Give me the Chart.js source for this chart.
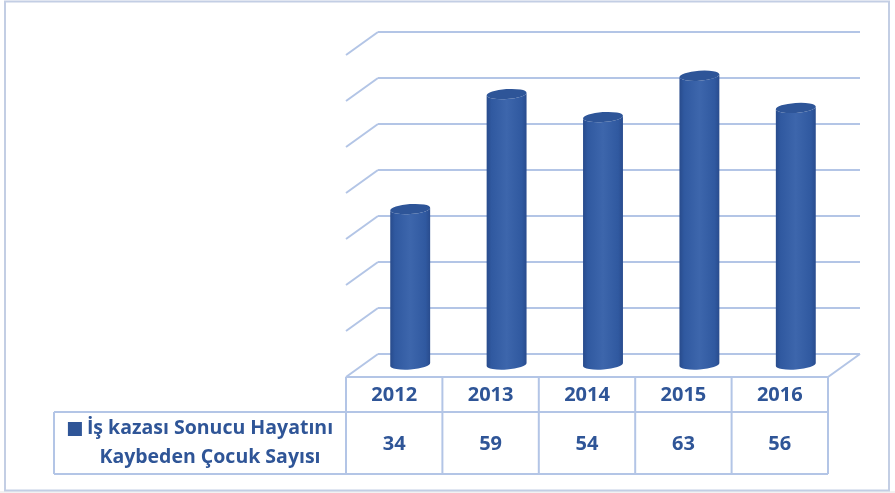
<!DOCTYPE html>
<html>
<head>
<meta charset="utf-8">
<script src="https://cdn.jsdelivr.net/npm/chart.js@4/dist/chart.umd.min.js"></script>
<style>
  html, body { margin: 0; padding: 0; background: #ffffff; }
  canvas { display: block; }
</style>
</head>
<body>
<canvas id="c" width="895" height="493"></canvas>
<script>
// ---- data ----
const categories = ['2012', '2013', '2014', '2015', '2016'];
const values = [34, 59, 54, 63, 56];
const seriesLines = ['İş kazası Sonucu Hayatını', 'Kaybeden Çocuk Sayısı'];
const yMin = 0;
const yMax = 70;
const yStep = 10;

// ---- style ----
const gridColor = '#B3C5E6';
const textColor = '#2F5597';
const depthX = -32, depthY = 23;
const fontFamily = '"Open Sans", Lato, "DejaVu Sans", sans-serif';

const threeD = {
  id: 'threeD',
  beforeDraw(chart) {
    const ctx = chart.ctx;
    ctx.save();
    ctx.fillStyle = '#ffffff';
    ctx.fillRect(0, 0, chart.width, chart.height);
    ctx.fillStyle = '#F2F2F2';
    ctx.fillRect(0, 491, chart.width, chart.height - 491);
    ctx.strokeStyle = '#C3CEE4';
    ctx.lineWidth = 2;
    ctx.strokeRect(5, 1.5, 884, 489);
    ctx.restore();
  },
  beforeDatasetsDraw(chart) {
    const { ctx, chartArea: a, scales: { x, y } } = chart;
    ctx.save();
    ctx.strokeStyle = gridColor;
    ctx.lineWidth = 2;
    ctx.beginPath();
    y.ticks.forEach(t => {
      const py = y.getPixelForValue(t.value);
      ctx.moveTo(a.left, py);
      ctx.lineTo(a.left + depthX, py + depthY);
    });
    const y0 = y.getPixelForValue(yMin);
    ctx.moveTo(a.left + depthX, y0 + depthY);
    ctx.lineTo(a.right + depthX, y0 + depthY);
    ctx.moveTo(a.right, y0);
    ctx.lineTo(a.right + depthX, y0 + depthY);
    ctx.stroke();
    ctx.restore();
  },
  afterDatasetsDraw(chart) {
    const ctx = chart.ctx;
    const meta = chart.getDatasetMeta(0);
    const rot = -0.07;
    meta.data.forEach(el => {
      const p = el.getProps(['x', 'y', 'base', 'width'], true);
      const cx = p.x + depthX / 2;
      const top = p.y + depthY / 2;
      const bot = p.base + depthY / 2;
      const rx = p.width / 2;
      const ry = 5;
      const cr = Math.cos(rot), sr = Math.sin(rot);
      ctx.save();
      const g = ctx.createLinearGradient(cx - rx, 0, cx + rx, 0);
      g.addColorStop(0, '#284B8C');
      g.addColorStop(0.12, '#3059A0');
      g.addColorStop(0.5, '#3D66AC');
      g.addColorStop(0.88, '#3059A0');
      g.addColorStop(1, '#294C8E');
      ctx.fillStyle = g;
      ctx.beginPath();
      ctx.moveTo(cx - rx * cr, top - rx * sr);
      ctx.lineTo(cx - rx * cr, bot - rx * sr);
      ctx.ellipse(cx, bot, rx, ry, rot, Math.PI, 0, true);
      ctx.lineTo(cx + rx * cr, top + rx * sr);
      ctx.ellipse(cx, top, rx, ry, rot, 0, Math.PI, false);
      ctx.closePath();
      ctx.fill();
      ctx.fillStyle = '#2E5598';
      ctx.beginPath();
      ctx.ellipse(cx, top, rx, ry, rot, 0, Math.PI * 2);
      ctx.fill();
      ctx.restore();
    });
  },
  afterDraw(chart) {
    const { ctx, scales: { x, y } } = chart;
    const y0 = y.getPixelForValue(yMin) + depthY;
    const headerH = 35, rowH = 62;
    const n = chart.data.labels.length;
    const half = (x.getPixelForValue(1) - x.getPixelForValue(0)) / 2;
    const bounds = [];
    for (let i = 0; i <= n; i++) {
      bounds.push(x.getPixelForValue(i) - half + depthX);
    }
    const legendLeft = 54;
    ctx.save();
    ctx.strokeStyle = gridColor;
    ctx.lineWidth = 2;
    ctx.beginPath();
    bounds.forEach(bx => { ctx.moveTo(bx, y0); ctx.lineTo(bx, y0 + headerH + rowH); });
    ctx.moveTo(bounds[0], y0 + headerH);
    ctx.lineTo(bounds[n], y0 + headerH);
    ctx.moveTo(legendLeft, y0 + headerH);
    ctx.lineTo(bounds[0], y0 + headerH);
    ctx.moveTo(legendLeft, y0 + headerH + rowH);
    ctx.lineTo(bounds[n], y0 + headerH + rowH);
    ctx.moveTo(legendLeft, y0 + headerH);
    ctx.lineTo(legendLeft, y0 + headerH + rowH);
    ctx.stroke();

    ctx.fillStyle = textColor;
    ctx.textAlign = 'center';
    ctx.textBaseline = 'middle';
    ctx.font = 'bold 20px ' + fontFamily;
    const ds = chart.data.datasets[0];
    chart.data.labels.forEach((lab, i) => {
      const cxp = x.getPixelForValue(i) + depthX;
      ctx.fillText(lab, cxp, y0 + headerH / 2 + 1);
      ctx.fillText(String(ds.data[i]), cxp, y0 + headerH + rowH / 2 + 1);
    });
    // legend cell
    ctx.font = 'bold 19.5px ' + fontFamily;
    const tc = (legendLeft + bounds[0]) / 2 + 10;
    const l1 = seriesLines[0], l2 = seriesLines[1];
    ctx.fillText(l1, tc, y0 + headerH + 16);
    ctx.fillText(l2, tc, y0 + headerH + 45);
    const w1 = ctx.measureText(l1).width;
    ctx.fillStyle = ds.borderColor;
    ctx.fillRect(tc - w1 / 2 - 19, y0 + headerH + 10, 14, 14);
    ctx.restore();
  }
};

new Chart(document.getElementById('c'), {
  type: 'bar',
  data: {
    labels: categories,
    datasets: [{
      label: seriesLines.join(' '),
      data: values,
      backgroundColor: 'rgba(0,0,0,0)',
      borderColor: '#2F5597',
      borderWidth: 0,
      categoryPercentage: 1,
      barPercentage: 0.415
    }]
  },
  options: {
    responsive: false,
    animation: false,
    devicePixelRatio: 1,
    layout: { padding: { left: 378, right: 35, top: 32, bottom: 139 } },
    plugins: { legend: { display: false }, tooltip: { enabled: false } },
    scales: {
      x: { display: false },
      y: {
        min: yMin, max: yMax,
        ticks: { display: false, stepSize: yStep },
        border: { display: false },
        grid: { color: gridColor, lineWidth: 2, drawTicks: false }
      }
    }
  },
  plugins: [threeD]
});
</script>
</body>
</html>
